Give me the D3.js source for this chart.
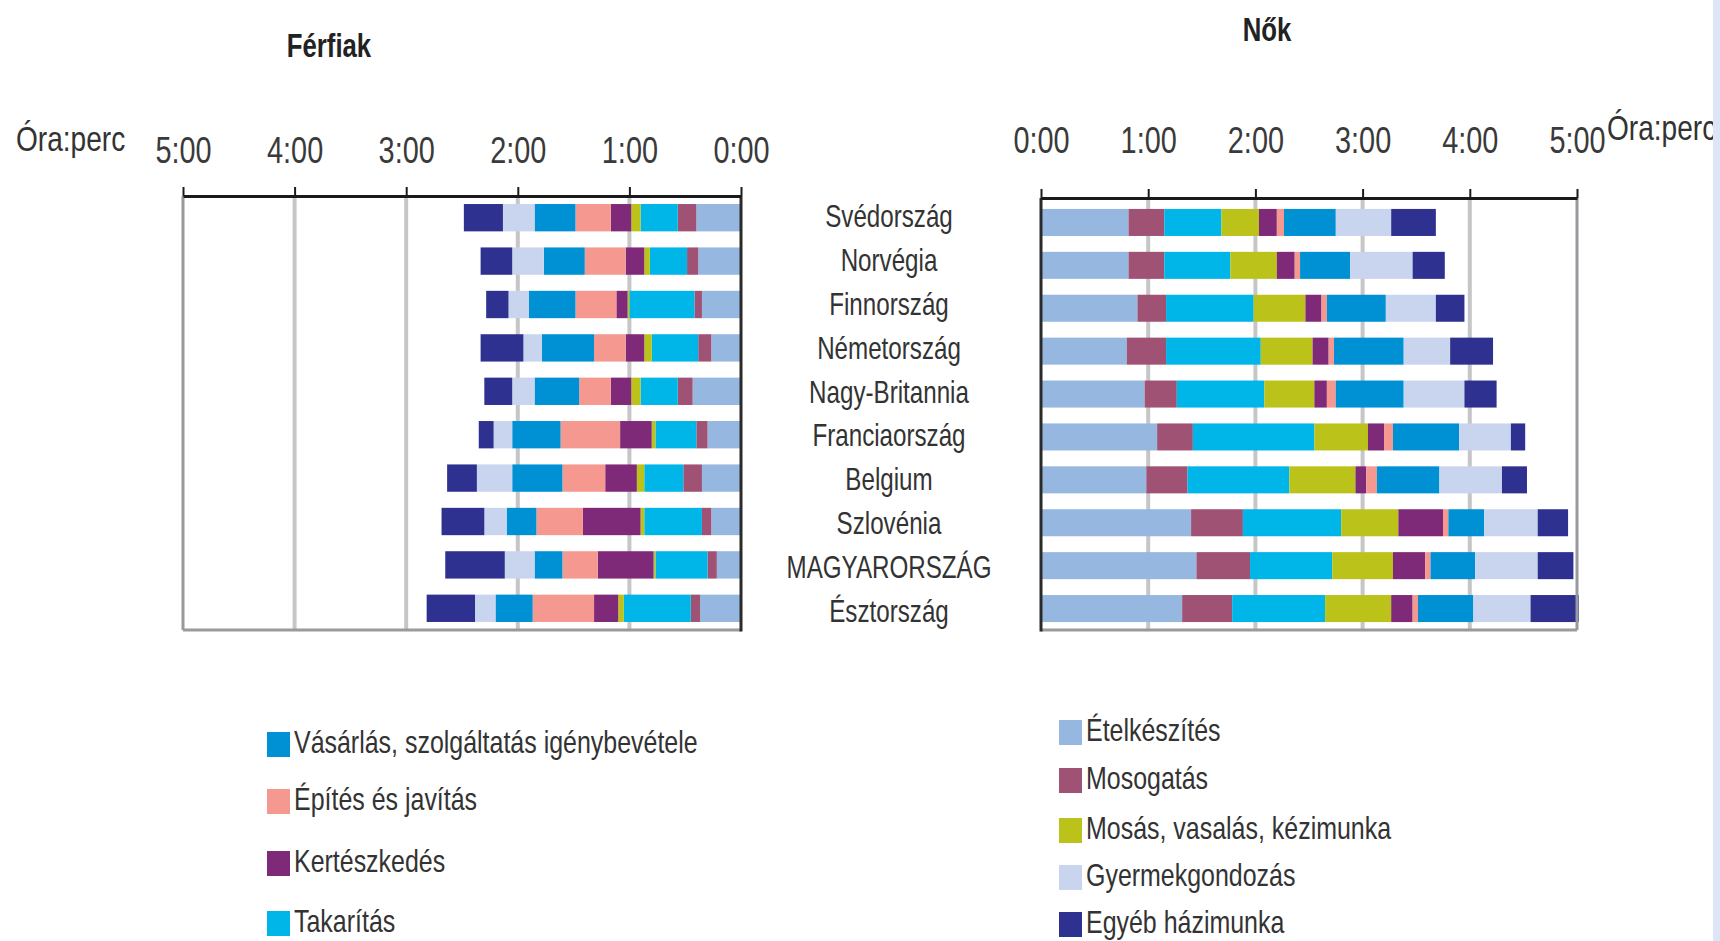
<!DOCTYPE html>
<html><head><meta charset="utf-8">
<script src="https://cdn.jsdelivr.net/npm/d3@7"></script>
<style>
html,body{margin:0;padding:0;background:#fff;}
svg{display:block;}
text{font-family:"Liberation Sans",Arial,Helvetica,sans-serif;fill:#333;}
</style></head><body>
<svg id="c" width="1720" height="941"></svg>
<script>
// ---------- DATA ----------
const countries = ["Svédország","Norvégia","Finnország","Németország","Nagy-Britannia","Franciaország","Belgium","Szlovénia","MAGYARORSZÁG","Észtország"];
const categories = ["Ételkészítés","Mosogatás","Takarítás","Mosás, vasalás, kézimunka","Kertészkedés","Építés és javítás","Vásárlás, szolgáltatás igénybevétele","Gyermekgondozás","Egyéb házimunka"];
const colors = ["#96b7e0","#a05274","#00b5e8","#bbc31b","#7f2a78","#f49890","#0091d5","#c9d5ee","#2e3190"];
const tickValues = [0,60,120,180,240,300];
const tickLabels = ["0:00","1:00","2:00","3:00","4:00","5:00"];
const unitLabel = "Óra:perc";
const titleMen = "Férfiak";
const titleWomen = "Nők";

// minutes per day, men
const menEtel    = [24,23,21,16,26,18,21,16,13,22];
const menMosog   = [10, 6, 4, 7, 8, 6,10, 5, 5, 5];
const menTakar   = [20,20,35,25,20,22,21,31,28,36];
const menMosas   = [ 5, 3, 1, 4, 5, 2, 4, 2, 1, 3];
const menKert    = [11,10, 6,10,11,17,17,31,30,13];
const menEpit    = [19,22,22,17,17,32,23,25,19,33];
const menVas     = [22,22,25,28,24,26,27,16,15,20];
const menGyer    = [17,17,11,10,12,10,19,12,16,11];
const menEgyeb   = [21,17,12,23,15, 8,16,23,32,26];
// minutes per day, women
const womEtel    = [49,49,54,48,58,65,59,84,87,79];
const womMosog   = [20,20,16,22,18,20,23,29,30,28];
const womTakar   = [32,37,49,53,49,68,57,55,46,52];
const womMosas   = [21,26,29,29,28,30,37,32,34,37];
const womKert    = [10,10, 9, 9, 7, 9, 6,25,18,12];
const womEpit    = [ 4, 3, 3, 3, 5, 5, 6, 3, 3, 3];
const womVas     = [29,28,33,39,38,37,35,20,25,31];
const womGyer    = [31,35,28,26,34,29,35,30,35,32];
const womEgyeb   = [25,18,16,24,18, 8,14,17,20,27];

const menSeries = [menEtel,menMosog,menTakar,menMosas,menKert,menEpit,menVas,menGyer,menEgyeb];
const womSeries = [womEtel,womMosog,womTakar,womMosas,womKert,womEpit,womVas,womGyer,womEgyeb];
const legendLeft = [6,5,4,2];
const legendRight = [0,1,3,7,8];

// ---------- LAYOUT ----------
const SX = 0.78; // condensed type
const svg = d3.select("#c");
const L = {x0:741, x5:183, top:196, bottom:630, tickPad:24};
const R = {x0:1041, x5:1577, top:198, bottom:630, tickPad:36};

function txt(parent, x, y, size, str, anchor){
  return parent.append("text")
    .attr("transform",`translate(${x},${y}) scale(${SX},1)`)
    .attr("font-size",size).attr("text-anchor",anchor||"start").text(str);
}

function rows(series){
  return countries.map((c,i)=>{
    const o={country:c};
    categories.forEach((k,j)=>o[k]=series[j][i]);
    return o;
  });
}
const stack = d3.stack().keys(categories);
const color = d3.scaleOrdinal().domain(categories).range(colors);

function panel(P, series, bandRange){
  const x = d3.scaleLinear().domain([0,300]).range([P.x0,P.x5]);
  const y = d3.scaleBand().domain(countries).range(bandRange).paddingInner(0.37).paddingOuter(0.185);
  const g = svg.append("g");
  g.selectAll(".grid").data(tickValues.slice(1,5)).join("line")
    .attr("x1",d=>x(d)).attr("x2",d=>x(d)).attr("y1",P.top).attr("y2",P.bottom)
    .attr("stroke","#c6c6c8").attr("stroke-width",4);
  const st = stack(rows(series));
  g.selectAll(".s").data(st).join("g").attr("fill",d=>color(d.key))
    .selectAll("rect").data(d=>d).join("rect")
    .attr("x",d=>Math.min(x(d[0]),x(d[1])))
    .attr("width",d=>Math.abs(x(d[1])-x(d[0])))
    .attr("y",d=>y(d.data.country)).attr("height",y.bandwidth());
  g.append("line").attr("x1",x(300)).attr("x2",x(300)).attr("y1",P.top).attr("y2",P.bottom)
    .attr("stroke","#9a9a9e").attr("stroke-width",3);
  g.append("line").attr("x1",x(300)).attr("x2",x(0)).attr("y1",P.bottom).attr("y2",P.bottom)
    .attr("stroke","#9a9a9e").attr("stroke-width",3);
  g.append("line").attr("x1",x(0)).attr("x2",x(0)).attr("y1",P.top).attr("y2",P.bottom+1.5)
    .attr("stroke","#2a2a2a").attr("stroke-width",3);
  const ax = svg.append("g").attr("transform",`translate(0,${P.top})`)
    .call(d3.axisTop(x).tickValues(tickValues).tickFormat((d,i)=>tickLabels[i]).tickSize(9).tickSizeOuter(0).tickPadding(P.tickPad));
  ax.select(".domain").attr("stroke","#1a1a1a").attr("stroke-width",3);
  ax.selectAll(".tick line").attr("stroke","#1a1a1a").attr("stroke-width",2);
  ax.selectAll(".tick text").attr("font-size",37).attr("font-family",null)
    .attr("transform",`scale(${SX},1)`).style("fill","#3a3a3a");
  return y;
}
panel(L, menSeries, [196,630]);
panel(R, womSeries, [201,630]);

// country labels (centred between the two panels)
const yLab = d3.scalePoint().domain(countries).range([216,611]);
const cg = svg.append("g");
countries.forEach(d=>{
  txt(cg, 889, yLab(d) + 11, 31, d, "middle");
});

// titles
txt(svg, 329, 57, 33, titleMen, "middle").attr("font-weight","bold").style("fill","#222");
txt(svg, 1267, 41, 33, titleWomen, "middle").attr("font-weight","bold").style("fill","#222");
txt(svg, 16, 151, 36, unitLabel);
txt(svg, 1607, 140, 36, unitLabel);

// legends
function legend(idx, x, ys){
  const g = svg.append("g");
  idx.forEach((k,i)=>{
    g.append("rect").attr("x",x).attr("y",ys[i]-12).attr("width",23).attr("height",25).attr("fill",colors[k]);
    txt(g, x+27, ys[i]+9, 32, categories[k]);
  });
}
legend(legendLeft, 267, [744,801,863,923]);
legend(legendRight, 1059, [732,780,830,877,924]);

// right edge strip
svg.append("rect").attr("x",1713).attr("y",0).attr("width",7).attr("height",941).attr("fill","#dde6f6");
</script>
</body></html>
